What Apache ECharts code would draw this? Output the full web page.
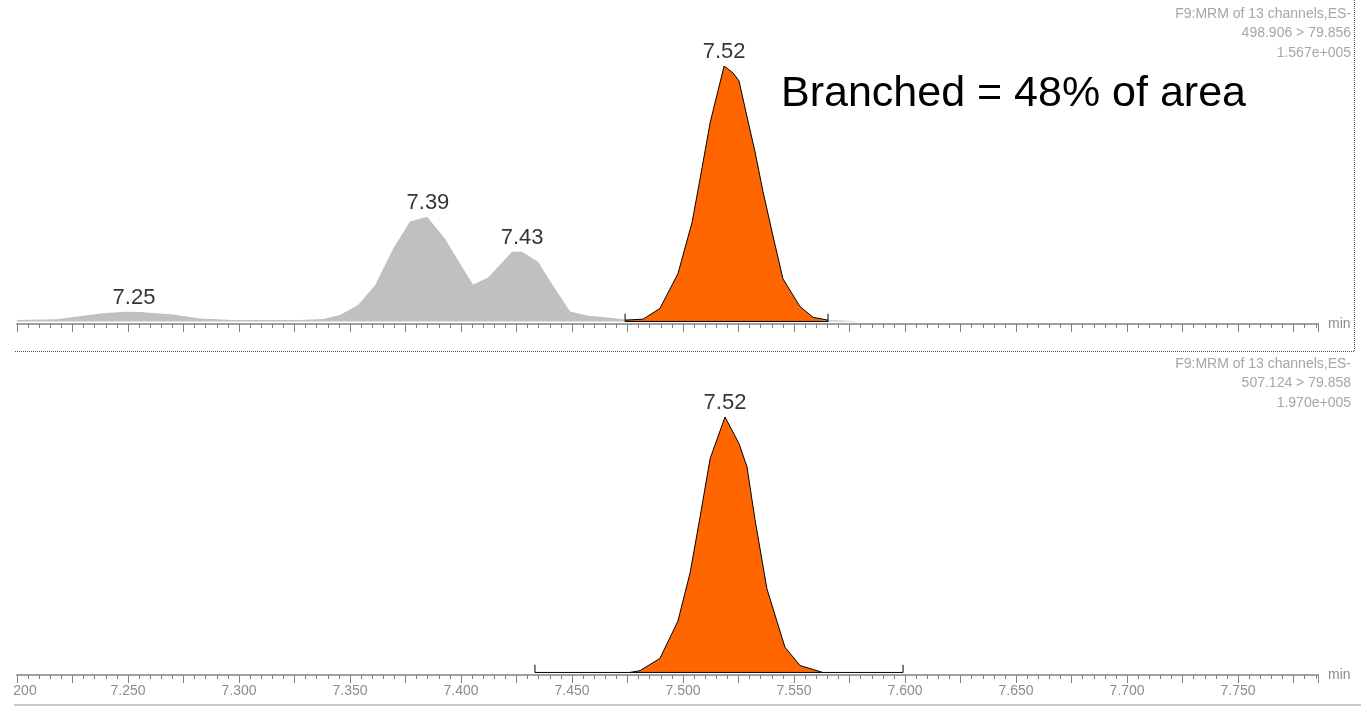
<!DOCTYPE html>
<html>
<head>
<meta charset="utf-8">
<script src="https://cdn.jsdelivr.net/npm/echarts@6/dist/echarts.min.js"></script>
<style>
html,body{margin:0;padding:0;background:#fff;}
#chart{width:1361px;height:709px;}
</style>
</head>
<body>
<div id="chart"></div>
<script>
// ---- data (time in min, intensity in % of panel maximum) ----
const grayTimes = [7.200, 7.218, 7.2374, 7.2486, 7.2554, 7.2703, 7.2824, 7.2973, 7.3275, 7.338, 7.3455, 7.3536, 7.3613, 7.3694, 7.3770, 7.3847, 7.3928, 7.4009, 7.4054, 7.4122, 7.4230, 7.4275, 7.4347, 7.4414, 7.4491, 7.4568, 7.4703, 7.4739, 7.5653, 7.572, 7.580, 7.786];
const grayValues = [0.6, 0.9, 3.1, 3.8, 3.7, 2.7, 1.2, 0.6, 0.6, 1.0, 2.5, 6.4, 14.2, 28.5, 39.1, 41.0, 32.4, 20.7, 14.5, 17.2, 27.3, 27.3, 23.4, 14.1, 3.9, 2.3, 1.2, 0.8, 0.5, 0.4, 0.0, 0.0];

const topPeakTimes = [7.4739, 7.4820, 7.4896, 7.4977, 7.5041, 7.5086, 7.5122, 7.5185, 7.5225, 7.5252, 7.5288, 7.5324, 7.5360, 7.5405, 7.5450, 7.5527, 7.5586, 7.5653];
const topPeakValues = [0.5, 0.9, 5.1, 18.7, 38.9, 60.3, 77.8, 100, 97.3, 94.2, 80.2, 66.5, 50.9, 33.5, 16.7, 5.8, 1.6, 0.5];

const bottomPeakTimes = [7.4761, 7.4806, 7.4896, 7.4977, 7.5032, 7.5077, 7.5122, 7.5189, 7.5252, 7.5288, 7.5324, 7.5378, 7.5459, 7.5527, 7.5626];
const bottomPeakValues = [0.0, 0.7, 5.5, 20.1, 39.1, 61.0, 83.7, 100, 89.6, 80.5, 59.9, 32.7, 9.9, 2.7, 0.1];

const topIntegration = [7.4739, 7.5653];
const bottomIntegration = [7.4333, 7.5991];
const integrationTickHeight = 3;

const topLabelTimes = [7.2527, 7.3851, 7.4275, 7.5185];
const topLabelValues = [3.8, 41.0, 27.3, 100];
const topLabelTexts = ['7.25', '7.39', '7.43', '7.52'];

const bottomLabelTimes = [7.5189];
const bottomLabelValues = [100];
const bottomLabelTexts = ['7.52'];

const topInfo = ['F9:MRM of 13 channels,ES-', '498.906 > 79.856', '1.567e+005'];
const bottomInfo = ['F9:MRM of 13 channels,ES-', '507.124 > 79.858', '1.970e+005'];
const annotation = 'Branched = 48% of area';

const xMin = 7.2, xMax = 7.786, xInterval = 0.025, labelStep = 0.05;
const axisName = 'min';

// ---- helpers ----
const zip = (a, b) => a.map((v, i) => [v, b[i]]);
const integ = (r) => [[r[0], integrationTickHeight], [r[0], 0], [r[1], 0], [r[1], integrationTickHeight]];
const labelData = (t, v, s) => t.map((x, i) => ({value: [x, v[i]], name: s[i]}));
const isMult = (v, s) => Math.abs(Math.round(v / s) - v / s) < 1e-6;

const FONT = '"Liberation Sans", Arial, sans-serif';
const GREY_TXT = '#8c8c8c';

function xAxisDef(gridIndex, showLabels) {
  return {
    type: 'value', gridIndex: gridIndex, min: xMin, max: xMax, interval: xInterval,
    name: axisName, nameLocation: 'end', nameGap: 10,
    nameTextStyle: {color: GREY_TXT, fontSize: 14, fontFamily: FONT},
    axisLine: {show: true, onZero: false, lineStyle: {color: '#a0a0a0', width: 2}},
    axisTick: {show: true, inside: false, length: 8, lineStyle: {color: '#808080', width: 1}},
    minorTick: {show: true, splitNumber: 5, length: 4, lineStyle: {color: '#808080', width: 1}},
    splitLine: {show: false}, minorSplitLine: {show: false},
    axisLabel: {
      show: showLabels, showMinLabel: true, showMaxLabel: false, margin: 9,
      color: GREY_TXT, fontSize: 14, fontFamily: FONT,
      formatter: function (v) {
        if (!isMult(v, labelStep)) return '';
        if (Math.abs(v - xMin) < 1e-9) return '{cut|' + v.toFixed(3).slice(2) + '}';
        return v.toFixed(3);
      },
      rich: {cut: {padding: [0, 0, 0, 16], color: GREY_TXT, fontSize: 14, fontFamily: FONT}}
    }
  };
}
function yAxisDef(gridIndex) {
  return {type: 'value', gridIndex: gridIndex, min: -1, max: 100, show: false, splitLine: {show: false}};
}
function labelSeries(idx, data) {
  return {
    type: 'scatter', xAxisIndex: idx, yAxisIndex: idx, symbolSize: 0.001, data: data, z: 10,
    label: {show: true, position: 'top', distance: 3, formatter: p => p.name,
            color: '#000', fontSize: 22, fontFamily: FONT, textBorderWidth: 0}
  };
}
function infoText(lines, top) {
  return lines.map((s, i) => ({
    type: 'text', right: 10, top: top + i * 19.5,
    style: {text: s, fill: '#a6a6a6', font: '14px ' + FONT, textAlign: 'right'}
  }));
}

const option = {
  animation: false,
  backgroundColor: '#fff',
  grid: [
    {left: 17, right: 43, top: 66, height: 258},
    {left: 17, right: 43, top: 417, height: 258}
  ],
  xAxis: [xAxisDef(0, false), xAxisDef(1, true)],
  yAxis: [yAxisDef(0), yAxisDef(1)],
  series: [
    {type: 'line', xAxisIndex: 0, yAxisIndex: 0, data: zip(grayTimes, grayValues), symbol: 'none',
     lineStyle: {width: 0}, areaStyle: {color: '#c0c0c0', opacity: 1}, z: 2},
    {type: 'line', xAxisIndex: 0, yAxisIndex: 0, data: zip(topPeakTimes, topPeakValues), symbol: 'none',
     lineStyle: {color: '#000', width: 1}, areaStyle: {color: '#ff6600', opacity: 1}, z: 3},
    {type: 'line', xAxisIndex: 0, yAxisIndex: 0, data: integ(topIntegration), symbol: 'none',
     lineStyle: {color: '#000', width: 1}, z: 4},
    labelSeries(0, labelData(topLabelTimes, topLabelValues, topLabelTexts)),
    {type: 'line', xAxisIndex: 1, yAxisIndex: 1, data: zip(bottomPeakTimes, bottomPeakValues), symbol: 'none',
     lineStyle: {color: '#000', width: 1}, areaStyle: {color: '#ff6600', opacity: 1}, z: 3},
    {type: 'line', xAxisIndex: 1, yAxisIndex: 1, data: integ(bottomIntegration), symbol: 'none',
     lineStyle: {color: '#000', width: 1}, z: 4},
    labelSeries(1, labelData(bottomLabelTimes, bottomLabelValues, bottomLabelTexts))
  ],
  graphic: [
    {type: 'line', shape: {x1: 15, y1: 351.5, x2: 1355, y2: 351.5},
     style: {stroke: '#555', lineWidth: 1, lineDash: [1, 1]}},
    {type: 'line', shape: {x1: 1354.5, y1: 0, x2: 1354.5, y2: 351},
     style: {stroke: '#555', lineWidth: 1, lineDash: [1, 1]}},
    {type: 'line', shape: {x1: 14, y1: 705, x2: 1361, y2: 705},
     style: {stroke: '#c8c8c8', lineWidth: 2}},
    {type: 'text', left: 781, top: 73,
     style: {text: annotation, fill: '#000', font: '43px ' + FONT}}
  ].concat(infoText(topInfo, 7)).concat(infoText(bottomInfo, 357))
};

const chart = echarts.init(document.getElementById('chart'), null, {renderer: 'canvas'});
chart.setOption(option);
</script>
</body>
</html>
